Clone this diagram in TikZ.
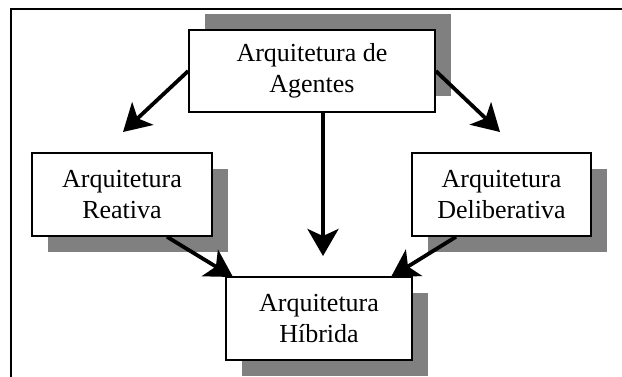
\documentclass[tikz,border=0pt]{standalone}
\usepackage{fontspec}
\setmainfont{Liberation Serif}
\usetikzlibrary{arrows.meta,shadows}
\begin{document}
\begin{tikzpicture}[x=1pt,y=-1pt,
  box/.style={draw=black, line width=1.6pt, fill=white, align=center,
    inner sep=0pt, font=\fontsize{26}{31}\selectfont},
  shadowdown/.style={general shadow={fill=black!50, shadow xshift=16pt, shadow yshift=-16pt}},
  shadowup/.style={general shadow={fill=black!50, shadow xshift=16pt, shadow yshift=16pt}},
  link/.style={line width=3.8pt, -{Stealth[length=27pt,width=31pt,inset=7pt]}}]
\useasboundingbox (0,0) rectangle (622,376);
\clip (0,0) rectangle (622,376);

% outer frame (runs past the right and bottom edges)
\draw[line width=1.6pt] (11,400) -- (11,9) -- (640,9);

% boxes
\node[box, shadowup, minimum width=246pt, minimum height=82pt] (ag) at (312,71)
  {Arquitetura de\\Agentes};
\node[box, shadowdown, minimum width=180pt, minimum height=83pt] (re) at (122,194.5)
  {Arquitetura\\Reativa};
\node[box, shadowdown, minimum width=179pt, minimum height=83pt] (de) at (501.5,194.5)
  {Arquitetura\\Deliberativa};
\node[box, shadowdown, minimum width=186pt, minimum height=83pt] (hi) at (319,318.5)
  {Arquitetura\\Híbrida};

% arrow tips
\coordinate (tre) at (123,132);
\coordinate (tde) at (500,132);
\coordinate (thi) at (323,256);
\coordinate (tlh) at (233,277);
\coordinate (trh) at (391,277);

% connectors
\draw[link] (ag.west) -- (tre);
\draw[link] (ag.east) -- (tde);
\draw[link] ([xshift=11pt]ag.south) -- (thi);
\draw[link] ([xshift=45pt]re.south) -- (tlh);
\draw[link] ([xshift=-45.5pt]de.south) -- (trh);
\end{tikzpicture}
\end{document}
